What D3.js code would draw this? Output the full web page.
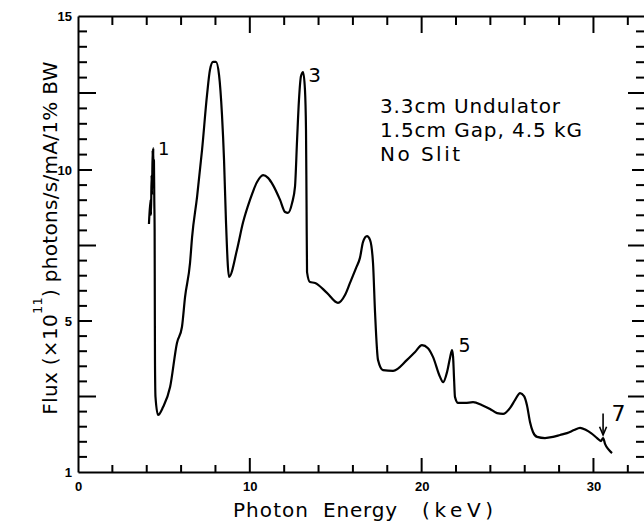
<!DOCTYPE html>
<html>
<head>
<meta charset="utf-8">
<script src="https://cdn.jsdelivr.net/npm/d3@7"></script>
<style>
  html, body { margin: 0; padding: 0; background: #fff; }
  svg { display: block; }
  text { fill: #000; }
</style>
</head>
<body>
<svg id="chart" width="644" height="524"></svg>
<script>
// Undulator spectrum: photon energy (keV) vs flux (x10^11 photons/s/mA/1%BW)
const energy = [
  4.13, 4.22, 4.25, 4.28, 4.31, 4.34, 4.37, 4.38, 4.40, 4.42, 4.44, 4.46,
  4.47, 4.48, 4.51, 4.66, 4.95, 5.36, 5.76, 6.05, 6.23, 6.52, 6.64, 6.93,
  7.22, 7.51, 7.68, 7.86, 8.03, 8.21, 8.38, 8.50, 8.61, 8.79, 9.25, 9.60,
  10.01, 10.42, 10.77, 11.06, 11.35, 11.76, 12.05, 12.22, 12.46, 12.63, 12.75, 12.86,
  12.98, 13.10, 13.21, 13.27, 13.30, 13.33, 13.50, 13.80, 14.49, 15.13, 15.54, 15.83,
  16.18, 16.41, 16.59, 16.82, 17.00, 17.17, 17.29, 17.46, 17.75, 18.34, 19.15, 19.62,
  20.02, 20.37, 20.66, 21.07, 21.25, 21.48, 21.65, 21.77, 21.83, 21.89, 21.94, 22.12,
  22.53, 22.99, 23.52, 23.98, 24.39, 24.74, 25.15, 25.44, 25.73, 25.96, 26.13, 26.31,
  26.48, 26.72, 27.18, 27.65, 28.06, 28.46, 28.87, 29.22, 29.57, 29.86, 30.21, 30.44,
  30.56, 30.68, 30.85, 31.08
];
const flux = [
  8.21, 9.01, 8.51, 9.83, 9.17, 10.65, 10.00, 10.71, 9.50, 10.32, 9.01, 8.01,
  5.70, 3.97, 2.99, 2.51, 2.72, 3.25, 4.42, 4.84, 5.79, 6.92, 7.78, 9.11,
  10.65, 12.44, 13.25, 13.51, 13.51, 13.08, 11.79, 10.32, 8.34, 6.46, 7.35, 8.25,
  9.01, 9.60, 9.83, 9.74, 9.50, 9.01, 8.61, 8.58, 8.91, 9.45, 10.97, 12.27,
  13.05, 13.18, 12.60, 11.30, 9.01, 6.62, 6.29, 6.26, 5.93, 5.60, 5.86, 6.26,
  6.75, 7.09, 7.62, 7.81, 7.68, 6.92, 5.26, 3.97, 3.70, 3.68, 3.97, 4.18,
  4.36, 4.28, 4.05, 3.52, 3.38, 3.65, 4.02, 4.23, 4.05, 3.44, 2.99, 2.83,
  2.83, 2.85, 2.77, 2.67, 2.56, 2.54, 2.70, 2.91, 3.09, 3.01, 2.77, 2.32,
  2.06, 1.93, 1.90, 1.93, 1.98, 2.03, 2.11, 2.17, 2.11, 2.03, 1.90, 1.82,
  1.90, 1.74, 1.61, 1.50
];

// Axis ticks
const xMajorTicks = [0, 10, 20, 30];
const xMinorTicks = [2, 4, 6, 8, 12, 14, 16, 18, 22, 24, 26, 28, 32];
const yMajorTicks = [1, 5, 10, 15];
const yMajorLabels = ["1", "5", "10", "15"];
const yMidTicks = [3, 7.5, 12.5];
const yMinorTicks = [1.4, 1.8, 2.2, 2.6, 3.4, 3.8, 4.2, 4.6,
  5.5, 6, 6.5, 7, 8, 8.5, 9, 9.5, 10.5, 11, 11.5, 12, 13, 13.5, 14, 14.5];

// Peak annotations (harmonic numbers)
const peakLabels = ["1", "3", "5", "7"];
const peakLabelAt = [[4.65, 10.49], [13.4, 12.86], [22.15, 4.18], [31.05, 2.35]];
const infoLines = ["3.3cm Undulator", "1.5cm Gap, 4.5 kG", "No Slit"];

const svg = d3.select("#chart");

const x = d3.scaleLinear().domain([0, 33]).range([78, 645]);
const y = d3.scaleLinear().domain([1, 5, 10, 15]).range([472, 321, 170, 16]);

const font = "'DejaVu Sans', sans-serif";
const tickFont = "'Liberation Sans', Arial, sans-serif";
const axisWidth = 2;

// Frame lines and labelled ticks
const axBottom = svg.append("g").attr("transform", `translate(0,${y(1)})`)
  .call(d3.axisBottom(x).tickValues(xMajorTicks).tickSize(0).tickSizeOuter(0).tickPadding(10).tickFormat(d3.format("d")));
const axTop = svg.append("g").attr("transform", `translate(0,${y(15)})`)
  .call(d3.axisTop(x).tickValues([]).tickSizeOuter(0));
const axLeft = svg.append("g").attr("transform", `translate(${x(0)},0)`)
  .call(d3.axisLeft(y).tickValues(yMajorTicks).tickSize(0).tickSizeOuter(0).tickPadding(6)
    .tickFormat((d, i) => yMajorLabels[i]));
[axBottom, axTop, axLeft].forEach(g => {
  g.selectAll("path, line").attr("stroke", "#000").attr("stroke-width", axisWidth);
  g.selectAll("text").attr("font-family", tickFont).attr("font-weight", "bold")
    .attr("font-size", 13).attr("fill", "#000");
});

// Inward tick marks along each edge
const tickLayer = svg.append("g");
function xTicks(values, yEdge, len) {
  tickLayer.append("g").selectAll("line").data(values).join("line")
    .attr("x1", d => x(d)).attr("x2", d => x(d))
    .attr("y1", yEdge).attr("y2", yEdge + len)
    .attr("stroke", "#000").attr("stroke-width", axisWidth);
}
function yTicks(values, xEdge, len) {
  tickLayer.append("g").selectAll("line").data(values).join("line")
    .attr("x1", xEdge).attr("x2", xEdge + len)
    .attr("y1", d => y(d)).attr("y2", d => y(d))
    .attr("stroke", "#000").attr("stroke-width", axisWidth);
}
xTicks(xMinorTicks, y(1), -7);
xTicks(xMajorTicks.slice(1), y(1), -14);
xTicks(xMinorTicks, y(15), 9);
xTicks(xMajorTicks.slice(1), y(15), 17);
yTicks(yMinorTicks, x(0), 9);
yTicks(yMidTicks, x(0), 18);
yTicks(yMajorTicks.slice(1, 3), x(0), 14);
yTicks(yMinorTicks, x(33), -9);
yTicks(yMidTicks, x(33), -17);
yTicks(yMajorTicks.slice(1, 3), x(33), -13);

// Spectrum curve
const line = d3.line()
  .x((d, i) => x(energy[i]))
  .y(d => y(d))
  .curve(d3.curveMonotoneX);
svg.append("path")
  .attr("d", line(flux))
  .attr("fill", "none")
  .attr("stroke", "#000")
  .attr("stroke-width", 2.2)
  .attr("stroke-linejoin", "round");

// Harmonic labels
const labelSizes = [18, 20, 19, 22];
svg.selectAll("text.peak").data(peakLabels).join("text")
  .attr("class", "peak")
  .attr("x", (d, i) => x(peakLabelAt[i][0]))
  .attr("y", (d, i) => y(peakLabelAt[i][1]))
  .attr("font-family", font)
  .attr("font-size", (d, i) => labelSizes[i])
  .text(d => d);

// Arrow marking the 7th harmonic
const arrowE = 30.56;
const ax = x(arrowE);
svg.append("line").attr("x1", ax).attr("x2", ax).attr("y1", y(2.55)).attr("y2", y(2.0))
  .attr("stroke", "#000").attr("stroke-width", 1.6);
svg.append("path")
  .attr("d", `M${ax - 3.5},${y(2.2)} L${ax},${y(1.98)} L${ax + 3.5},${y(2.2)}`)
  .attr("fill", "none").attr("stroke", "#000").attr("stroke-width", 1.6);

// Source parameters
svg.selectAll("text.info").data(infoLines).join("text")
  .attr("class", "info")
  .attr("x", 380)
  .attr("y", (d, i) => 113 + i * 24)
  .attr("font-family", font)
  .attr("font-size", 20)
  .attr("textLength", (d, i) => [180, 202, 80][i])
  .attr("lengthAdjust", "spacing")
  .text(d => d);

// X axis title
const xTitle = [["Photon", 233, 75], ["Energy", 323, 74], ["(keV)", 422, 71]];
svg.selectAll("text.xtitle").data(xTitle).join("text")
  .attr("class", "xtitle")
  .attr("x", d => d[1])
  .attr("y", 517)
  .attr("font-family", font)
  .attr("font-size", 20)
  .attr("textLength", d => d[2])
  .attr("lengthAdjust", "spacing")
  .text(d => d[0]);

// Y axis title
const yTitle = svg.append("text")
  .attr("transform", "translate(57,238) rotate(-90)")
  .attr("text-anchor", "middle")
  .attr("font-family", font)
  .attr("font-size", 20)
  .attr("letter-spacing", 0.3);
yTitle.append("tspan").text("Flux (×10");
yTitle.append("tspan").attr("dy", -15).attr("font-size", 13).text("11");
yTitle.append("tspan").attr("dy", 15).text(") photons/s/mA/1% BW");
</script>
</body>
</html>
